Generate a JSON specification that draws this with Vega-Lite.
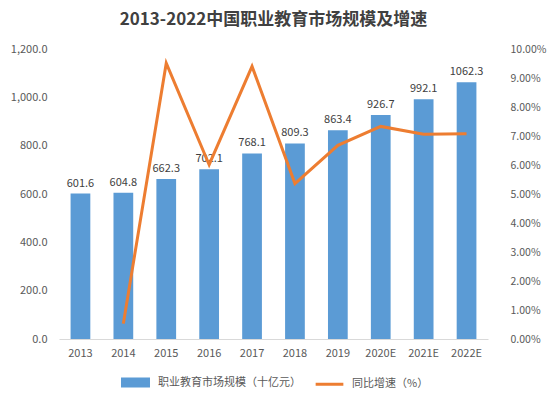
{
  "$schema": "https://vega.github.io/schema/vega-lite/v6.json",
  "autosize": {"type": "fit", "contains": "padding"},
  "width": 554,
  "height": 400,
  "padding": {"left": 10, "right": 8, "top": 11, "bottom": 8},
  "title": {
    "text": "2013-2022中国职业教育市场规模及增速",
    "fontSize": 17,
    "fontWeight": "bold",
    "color": "#404040",
    "font": "Noto Sans CJK SC",
    "offset": 14
  },
  "data": {
    "values": [
      {"year": "2013", "size": 601.6, "growth": null},
      {"year": "2014", "size": 604.8, "growth": 0.0053},
      {"year": "2015", "size": 662.3, "growth": 0.0951},
      {"year": "2016", "size": 702.1, "growth": 0.0601},
      {"year": "2017", "size": 768.1, "growth": 0.094},
      {"year": "2018", "size": 809.3, "growth": 0.0536},
      {"year": "2019", "size": 863.4, "growth": 0.0668},
      {"year": "2020E", "size": 926.7, "growth": 0.0733},
      {"year": "2021E", "size": 992.1, "growth": 0.0706},
      {"year": "2022E", "size": 1062.3, "growth": 0.0708}
    ]
  },
  "encoding": {
    "x": {
      "field": "year",
      "type": "nominal",
      "sort": null,
      "title": null,
      "scale": {"paddingInner": 0.54, "paddingOuter": 0.27},
      "axis": {
        "labelAngle": 0,
        "labelColor": "#595959",
        "labelFontSize": 11,
        "domainColor": "#d9d9d9",
        "ticks": false,
        "labelPadding": 8
      }
    }
  },
  "layer": [
    {
      "layer": [
        {
          "mark": {"type": "bar"},
          "encoding": {
            "y": {
              "field": "size",
              "type": "quantitative",
              "title": null,
              "scale": {"domain": [0, 1200]},
              "axis": {
                "values": [0, 200, 400, 600, 800, 1000, 1200],
                "format": ",.1f",
                "grid": false,
                "domain": false,
                "ticks": false,
                "labelColor": "#595959",
                "labelFontSize": 11,
                "labelPadding": 12
              }
            },
            "color": {"datum": "职业教育市场规模（十亿元）", "type": "nominal"}
          }
        },
        {
          "mark": {"type": "text", "dy": -10, "fontSize": 11, "color": "#404040"},
          "encoding": {
            "y": {"field": "size", "type": "quantitative"},
            "text": {"field": "size", "type": "quantitative", "format": ".1f"}
          }
        }
      ]
    },
    {
      "mark": {"type": "line", "strokeWidth": 3},
      "encoding": {
        "y": {
          "field": "growth",
          "type": "quantitative",
          "title": null,
          "scale": {"domain": [0, 0.1]},
          "axis": {
            "orient": "right",
            "values": [0, 0.01, 0.02, 0.03, 0.04, 0.05, 0.06, 0.07, 0.08, 0.09, 0.1],
            "format": ".2%",
            "grid": false,
            "domain": false,
            "ticks": false,
            "labelColor": "#595959",
            "labelFontSize": 10.5,
            "labelPadding": 22
          }
        },
        "color": {
          "datum": "同比增速（%）",
          "type": "nominal",
          "scale": {
            "domain": ["职业教育市场规模（十亿元）", "同比增速（%）"],
            "range": ["#5b9bd5", "#ed7d31"]
          },
          "legend": {
            "title": null,
            "orient": "bottom",
            "direction": "horizontal",
            "offset": 14,
            "columnPadding": 8,
            "symbolSize": 300,
            "symbolOffset": 6,
            "labelOffset": 12,
            "labelColor": "#595959",
            "labelFontSize": 11,
            "encode": {
              "symbols": {
                "update": {
                  "shape": {"signal": "datum.value === '同比增速（%）' ? 'M-1.6,0H1.6' : 'M-1.5,-0.4H1.5V0.4H-1.5Z'"},
                  "fill": {"signal": "datum.value === '同比增速（%）' ? 'transparent' : '#5b9bd5'"},
                  "stroke": {"signal": "datum.value === '同比增速（%）' ? '#ed7d31' : 'transparent'"},
                  "strokeWidth": {"value": 3},
                  "opacity": {"value": 1},
                  "fillOpacity": {"value": 1}
                }
              }
            }
          }
        }
      }
    }
  ],
  "resolve": {"scale": {"y": "independent"}},
  "config": {
    "view": {"stroke": null},
    "font": "Noto Sans CJK SC",
    "legend": {"layout": {"bottom": {"anchor": "middle", "direction": "horizontal"}}}
  }
}
